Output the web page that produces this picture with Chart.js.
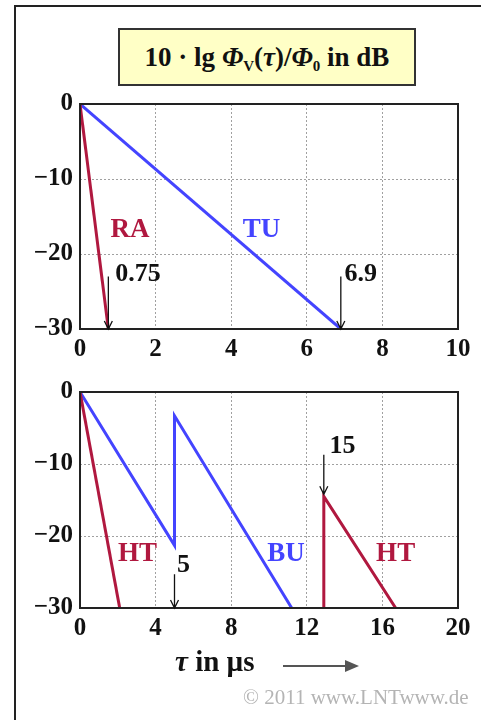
<!DOCTYPE html>
<html>
<head>
<meta charset="utf-8">
<script src="https://cdn.jsdelivr.net/npm/chart.js@4.4.0/dist/chart.umd.min.js"></script>
<style>
  body { margin: 0; background: #fff; width: 481px; height: 720px; position: relative; overflow: hidden; font-family: "Liberation Serif", serif; }
  #frame { position: absolute; left: 14px; top: 5px; width: 480px; height: 730px; border-left: 2px solid #222; border-top: 2px solid #222; }
  #title { position: absolute; left: 118px; top: 28px; width: 294px; height: 54px; border: 2px solid #333; background: #ffffc6;
           font-weight: bold; font-size: 27px; text-align: center; line-height: 54px; color: #111; }
  #title sub { font-size: 15px; vertical-align: -5px; line-height: 0; }
  canvas { position: absolute; left: 0; }
  #c1 { top: 0; }
  #c2 { top: 370px; }
  #xlab { position: absolute; left: 175px; top: 645px; font-weight: bold; font-size: 29px; color: #111; }
  #arrow { position: absolute; left: 283px; top: 656px; }
  #copy { position: absolute; left: 243px; top: 685px; font-size: 21px; color: #b4b4b4; }
</style>
</head>
<body>
<div id="frame"></div>
<div id="title">10 · lg <i>Φ</i><sub>V</sub>(<i>τ</i>)/<i>Φ</i><sub>0</sub> in dB</div>
<canvas id="c1" width="481" height="370"></canvas>
<canvas id="c2" width="481" height="280"></canvas>
<div id="xlab"><i>τ</i> in µs</div>
<svg id="arrow" width="80" height="20"><line x1="0" y1="10" x2="64" y2="10" stroke="#555" stroke-width="2"/><polygon points="62,4 76,10 62,16" fill="#555"/></svg>
<div id="copy">© 2011 www.LNTwww.de</div>
<script>
// upper diagram: RA and TU
var raX = [0, 0.75], raY = [0, -30];
var tuX = [0, 6.9], tuY = [0, -30];
// lower diagram: HT and BU
var ht1X = [0, 2.1], ht1Y = [0, -30];
var ht2X = [12.9, 12.9, 16.7], ht2Y = [-30, -14.5, -30];
var buX = [0, 5, 5, 11.2], buY = [0, -21.3, -3.3, -30];

var yTicks = [0, -10, -20, -30];
var xTicksTop = [0, 2, 4, 6, 8, 10];
var xTicksBottom = [0, 4, 8, 12, 16, 20];

// text labels [text, x, y, kind]
var labelsTop = [["RA", 1.32, -16.8, "red"], ["TU", 4.8, -16.8, "blue"]];
var labelsBottom = [["HT", 3.04, -22.5, "red"], ["BU", 10.9, -22.5, "blue"], ["HT", 16.7, -22.5, "red"]];
// arrows [text, x, yFrom, yTo, textX, textY]
var arrowsTop = [["0.75", 0.75, -23, -30, 0.93, -22.7], ["6.9", 6.9, -23, -30, 7.0, -22.7]];
var arrowsBottom = [["5", 5, -25.3, -30, 5.13, -24], ["15", 12.9, -8.7, -14.2, 13.2, -7.6]];

var RED = "#b0183f", BLUE = "#4444ff";

function pts(xs, ys) {
  return xs.map(function (x, i) { return { x: x, y: ys[i] }; });
}

function minus(v) { return v < 0 ? "\u2212" + Math.abs(v) : "" + v; }

var decoPlugin = {
  id: "deco",
  afterDatasetsDraw: function (chart) {
    var ctx = chart.ctx, a = chart.chartArea, sx = chart.scales.x, sy = chart.scales.y;
    var o = chart.options.plugins.deco;
    ctx.save();
    ctx.strokeStyle = "#222";
    ctx.lineWidth = 2;
    ctx.strokeRect(a.left, a.top, a.right - a.left, a.bottom - a.top);
    ctx.textBaseline = "middle";
    ctx.font = "bold 27px 'Liberation Serif'";
    ctx.textAlign = "center";
    o.labels.forEach(function (l) {
      ctx.fillStyle = l[3] == "red" ? RED : BLUE;
      ctx.fillText(l[0], sx.getPixelForValue(l[1]), sy.getPixelForValue(l[2]));
    });
    ctx.font = "bold 26px 'Liberation Serif'";
    ctx.textAlign = "left";
    ctx.fillStyle = "#111";
    ctx.strokeStyle = "#111";
    ctx.lineWidth = 1.3;
    o.arrows.forEach(function (r) {
      var x = sx.getPixelForValue(r[1]), y1 = sy.getPixelForValue(r[2]), y2 = sy.getPixelForValue(r[3]);
      ctx.beginPath();
      ctx.moveTo(x, y1); ctx.lineTo(x, y2);
      ctx.moveTo(x - 4, y2 - 8); ctx.lineTo(x, y2); ctx.lineTo(x + 4, y2 - 8);
      ctx.stroke();
      ctx.fillText(r[0], sx.getPixelForValue(r[4]), sy.getPixelForValue(r[5]));
    });
    ctx.restore();
  }
};

function makeChart(id, datasets, xMax, xStep, padTop, xHeight, labels, arrows) {
  return new Chart(document.getElementById(id), {
    type: "line",
    data: { datasets: datasets },
    options: {
      responsive: false,
      animation: false,
      layout: { padding: { top: padTop, right: 23, left: 0, bottom: 0 } },
      elements: { point: { radius: 0 }, line: { borderWidth: 3, tension: 0 } },
      plugins: { legend: { display: false }, tooltip: { enabled: false }, deco: { labels: labels, arrows: arrows } },
      scales: {
        x: {
          type: "linear", min: 0, max: xMax,
          afterFit: function (s) { s.height = xHeight; },
          ticks: { stepSize: xStep, color: "#111", padding: 6, font: { family: "Liberation Serif", size: 25, weight: "bold" } },
          grid: { color: "#a0a0a0", lineWidth: 1, drawTicks: false },
          border: { display: false, dash: [2, 2] }
        },
        y: {
          min: -30, max: 0,
          afterFit: function (s) { s.width = 80; },
          ticks: { stepSize: 10, color: "#111", padding: 7, callback: minus, font: { family: "Liberation Serif", size: 25, weight: "bold" } },
          grid: { color: "#a0a0a0", lineWidth: 1, drawTicks: false },
          border: { display: false, dash: [2, 2] }
        }
      }
    },
    plugins: [decoPlugin]
  });
}

makeChart("c1", [
  { data: pts(raX, raY), borderColor: RED },
  { data: pts(tuX, tuY), borderColor: BLUE }
], 10, 2, 104, 41, labelsTop, arrowsTop);

makeChart("c2", [
  { data: pts(ht1X, ht1Y), borderColor: RED },
  { data: pts(ht2X, ht2Y), borderColor: RED },
  { data: pts(buX, buY), borderColor: BLUE }
], 20, 4, 13, 42, labelsBottom, arrowsBottom);
</script>
</body>
</html>
